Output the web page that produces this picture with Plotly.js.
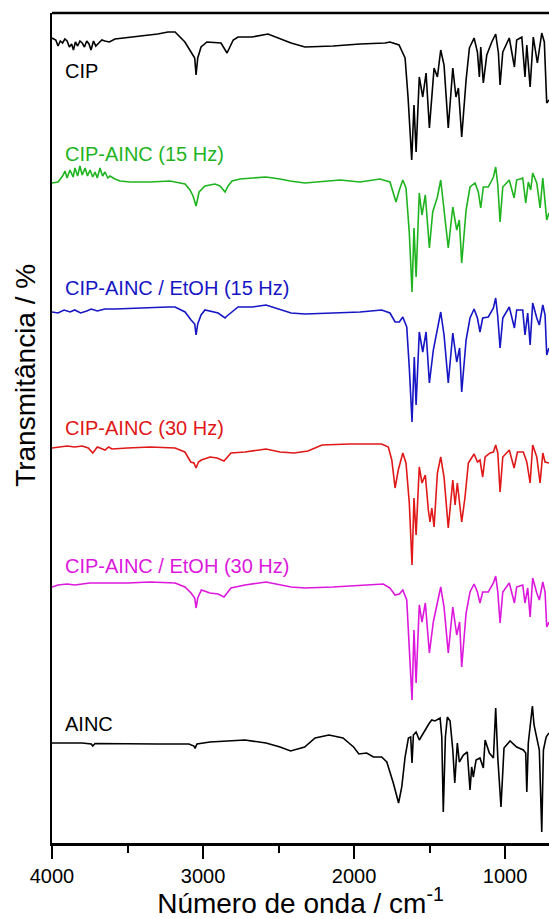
<!DOCTYPE html>
<html>
<head>
<meta charset="utf-8">
<script src="https://cdn.plot.ly/plotly-3.0.1.min.js"></script>
<style>
html,body{margin:0;padding:0;background:#fff;}
#chart{width:549px;height:919px;}
</style>
</head>
<body>
<div id="chart"></div>
<script>
// Wavenumbers (cm-1) and offset transmittance (arbitrary units)
const wnCIP = [4000,3975,3960,3945,3930,3915,3900,3885,3870,3858,3845,3830,3815,3800,3785,3770,3755,3742,3725,3710,3690,3670,3650,3620,3583,3450,3300,3232,3185,3120,3079,3055,3046,3035,3013,2974,2881,2841,2800,2768,2675,2570,2417,2325,2139,1960,1795,1762,1702,1662,1642,1618,1603,1589,1568,1545,1523,1501,1470,1448,1426,1404,1376,1346,1325,1309,1287,1258,1236,1205,1183,1170,1161,1144,1121,1088,1062,1044,1033,1015,972,938,923,889,868,856,834,813,786,757,740,724,709];
const tCIP = [805,803,797,802,800,804,802,796,799,793,801,797,802,800,796,802,799,793,802,797,800,803,802,801,804,806,809,811,811,801,790,785,768,785,796,801,800,790,803,806,806,809,800,796,797,799,800,801,798,785,745,683,738,691,766,746,770,715,775,766,793,778,715,775,746,755,706,763,795,805,791,766,796,760,788,801,809,790,758,791,805,776,803,806,766,798,756,806,780,810,801,740,743];

const wn15 = [4000,3960,3930,3914,3900,3881,3860,3848,3830,3815,3800,3781,3765,3748,3730,3715,3700,3682,3665,3649,3630,3616,3583,3550,3483,3351,3219,3119,3086,3066,3046,3026,2987,2921,2887,2854,2834,2808,2755,2689,2583,2490,2424,2325,2225,2093,1960,1828,1762,1722,1700,1677,1656,1634,1616,1603,1589,1568,1550,1528,1501,1479,1448,1426,1409,1376,1346,1320,1303,1287,1258,1232,1199,1177,1161,1144,1111,1077,1062,1048,1033,1015,972,940,923,883,863,846,830,817,790,768,750,724,709];
const t15 = [660,661,667,672,665,673,666,675,667,677,668,675,667,673,666,671,665,675,667,671,665,667,664,662,661,661,662,659,653,647,637,651,657,659,657,651,657,662,664,665,666,664,662,660,661,663,661,664,661,641,653,663,655,610,551,615,566,650,628,648,595,631,646,663,640,595,636,613,623,580,633,656,660,651,635,656,656,666,676,658,621,656,663,645,663,665,640,661,653,670,660,635,665,623,630];

const wnEt15 = [4000,3960,3920,3880,3850,3810,3770,3740,3700,3650,3583,3450,3232,3185,3119,3079,3055,3046,3035,3013,2987,2900,2854,2841,2768,2675,2583,2417,2325,2139,1960,1817,1762,1728,1700,1677,1651,1634,1616,1601,1589,1568,1545,1523,1501,1475,1448,1426,1404,1376,1346,1320,1301,1287,1258,1232,1205,1183,1166,1148,1111,1077,1062,1048,1033,1015,972,938,923,883,868,850,834,817,790,773,750,735,724,709];
const tEt15 = [531,530,533,531,533,530,532,534,532,534,534,535,536,536,531,523,519,508,519,528,533,530,525,527,536,536,538,530,529,530,531,533,530,521,521,526,516,475,421,486,438,511,491,511,460,493,513,531,508,460,510,481,495,451,503,525,534,525,511,525,526,535,545,526,495,525,536,515,533,533,508,530,498,540,525,518,538,528,488,495];

const wn30 = [4000,3960,3900,3850,3800,3760,3730,3700,3670,3649,3625,3603,3500,3350,3185,3120,3081,3060,3046,3030,3011,2954,2907,2861,2815,2722,2583,2490,2397,2305,2212,2026,1817,1773,1750,1728,1707,1677,1656,1634,1616,1603,1589,1568,1550,1528,1508,1497,1485,1470,1448,1426,1404,1376,1346,1331,1316,1287,1265,1243,1205,1183,1166,1148,1132,1099,1077,1062,1048,1033,1015,972,940,918,879,856,834,817,790,768,750,735,709];
const t30 = [395,396,397,396,397,395,390,396,394,393,396,394,395,396,395,391,381,380,375,381,383,386,385,382,390,391,394,391,390,392,398,399,399,396,383,355,373,390,380,340,278,345,308,376,360,368,333,321,335,316,370,386,366,315,363,338,360,321,346,380,389,381,383,366,386,390,391,398,390,351,386,393,375,391,391,381,360,398,386,360,390,381,380];

const wnEt30 = [4000,3960,3900,3850,3800,3750,3650,3500,3350,3185,3120,3079,3055,3046,3035,3011,2954,2900,2861,2815,2722,2583,2417,2325,2139,1960,1806,1762,1728,1700,1677,1651,1634,1616,1603,1589,1568,1550,1528,1501,1475,1448,1426,1404,1376,1346,1320,1301,1287,1258,1232,1205,1183,1166,1148,1111,1077,1062,1048,1033,1015,972,938,923,883,868,850,834,817,790,773,750,735,724,709];
const tEt30 = [256,258,259,258,259,260,260,260,261,260,256,250,245,235,245,253,250,249,246,255,258,261,256,255,256,258,259,255,248,249,253,243,200,143,213,160,238,221,240,190,221,241,256,236,190,236,208,221,176,230,251,259,251,240,251,251,260,267,251,220,251,260,240,256,258,240,255,226,265,250,243,261,251,216,221];

const wnAINC = [4000,3900,3800,3740,3730,3715,3500,3300,3093,3060,3053,3040,2954,2722,2583,2490,2420,2327,2258,2166,2073,2003,1968,1934,1916,1872,1817,1783,1740,1705,1684,1662,1640,1625,1616,1607,1589,1568,1541,1501,1485,1464,1430,1419,1409,1395,1382,1364,1346,1333,1316,1303,1276,1250,1232,1221,1210,1192,1166,1144,1132,1104,1077,1062,1048,1027,1007,967,923,879,863,856,846,830,819,808,790,773,757,746,728,709];
const tAINC = [100,100,100,99,97,99.5,99,99,99,97,94.7,99,101,103,100,96,92,96,105,108,105,96,89,90,90,86,86,81,60,40,56,86,105,106,80,108,111,103,110,120,123,122,125,106,31,106,126,122,93,60,100,81,88,91,53,76,66,83,85,75,103,90,85,135,85,36,95,102,96,93,90,51,100,120,137,118,106,93,11,93,106,110];

const seriesNames = ["CIP","CIP-AINC (15 Hz)","CIP-AINC / EtOH (15 Hz)","CIP-AINC (30 Hz)","CIP-AINC / EtOH (30 Hz)","AINC"];
const seriesColors = ["#000000","#1fb41f","#1616c4","#e01818","#dd18dd","#000000"];
const labelY = [772,689,555,415,277,119];
const labelX = 3925;

const xs = [wnCIP, wn15, wnEt15, wn30, wnEt30, wnAINC];
const ys = [tCIP, t15, tEt15, t30, tEt30, tAINC];

const font = "Liberation Sans, Arial, Helvetica, sans-serif";

const traces = xs.map((x, i) => ({
  type: "scatter", mode: "lines", x: x, y: ys[i], name: seriesNames[i],
  line: {color: seriesColors[i], width: 1.6}, hoverinfo: "skip"
}));

const annotations = seriesNames.map((n, i) => ({
  x: labelX, y: labelY[i], xref: "x", yref: "y", text: n, showarrow: false,
  xanchor: "left", yanchor: "middle",
  font: {family: font, size: 20, color: seriesColors[i]}
}));
// y-axis title (placed as in the reference, above the axis centre)
annotations.push({
  xref: "paper", yref: "paper", x: -0.052, y: 0.563,
  xanchor: "center", yanchor: "middle", textangle: -90, showarrow: false,
  text: "Transmitância / %", font: {family: font, size: 28, color: "#000"}
});

const layout = {
  width: 549, height: 919,
  margin: {l: 52, r: 0, t: 13, b: 76},
  paper_bgcolor: "#ffffff", plot_bgcolor: "#ffffff",
  showlegend: false,
  font: {family: font, color: "#000"},
  xaxis: {
    range: [4000, 709], autorange: false,
    tick0: 0, dtick: 1000,
    showline: true, linecolor: "#000", linewidth: 2.5,
    ticks: "outside", ticklen: 13, tickwidth: 2.5, tickcolor: "#000",
    minor: {dtick: 500, tick0: 0, ticks: "outside", ticklen: 7, tickwidth: 2, tickcolor: "#000", showgrid: false},
    tickfont: {family: font, size: 20, color: "#000"},
    showgrid: false, zeroline: false,
    title: {text: "Número de onda / cm<sup>-1</sup>", font: {family: font, size: 28, color: "#000"}, standoff: 7}
  },
  yaxis: {
    range: [0, 830], autorange: false,
    showline: true, linecolor: "#000", linewidth: 2.5,
    showticklabels: false, ticks: "",
    showgrid: false, zeroline: false
  },
  shapes: [{type: "line", xref: "paper", yref: "paper", x0: 0, x1: 1, y0: 1, y1: 1, line: {color: "#000", width: 2.5}}],
  annotations: annotations
};

Plotly.newPlot("chart", traces, layout, {displayModeBar: false, staticPlot: true});
</script>
</body>
</html>
